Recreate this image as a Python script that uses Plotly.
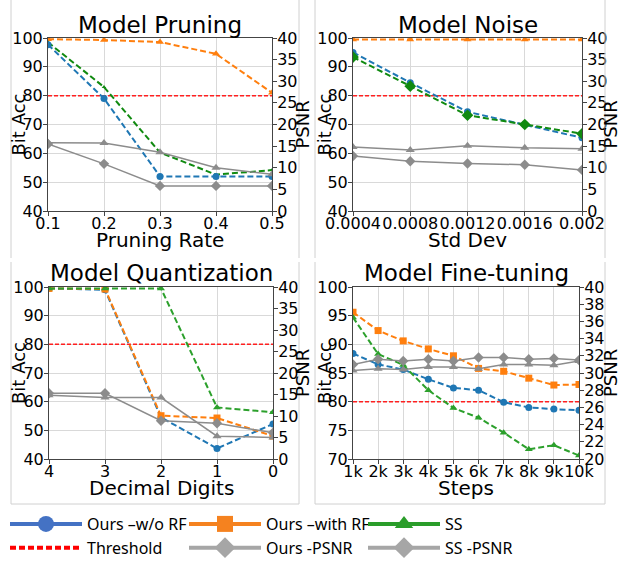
import plotly.graph_objects as go

W, H = 624, 567

# ---------------- data ----------------
prune_x = [0.1, 0.2, 0.3, 0.4, 0.5]
prune_wo = [97.7, 79.0, 52.0, 52.0, 52.0]
prune_with = [99.6, 99.3, 98.6, 94.5, 81.0]
prune_ss = [98.5, 83.0, 60.3, 52.6, 54.2]
prune_ours_psnr = [15.5, 10.9, 5.8, 5.8, 5.8]
prune_ss_psnr = [15.8, 15.7, 13.6, 10.0, 8.5]

noise_x = [0.0004, 0.0008, 0.0012, 0.0016, 0.002]
noise_labels = ["0.0004", "0.0008", "0.0012", "0.0016", "0.002"]
noise_wo = [95.0, 84.5, 74.4, 70.0, 65.4]
noise_with = [99.5, 99.5, 99.5, 99.5, 99.5]
noise_ss = [93.4, 83.3, 73.2, 70.0, 66.8]
noise_ours_psnr = [12.7, 11.5, 11.0, 10.7, 9.5]
noise_ss_psnr = [14.8, 14.1, 15.1, 14.6, 14.4]

quant_x = [4, 3, 2, 1, 0]
quant_wo = [99.5, 99.0, 54.5, 43.7, 52.2]
quant_with = [99.5, 99.3, 55.1, 54.3, 48.0]
quant_ss = [99.5, 99.5, 99.5, 58.0, 56.3]
quant_ours_psnr = [15.3, 15.3, 8.9, 8.3, 6.1]
quant_ss_psnr = [14.8, 14.3, 14.3, 5.3, 5.0]

ft_x = [1, 2, 3, 4, 5, 6, 7, 8, 9, 10]
ft_labels = ["1k", "2k", "3k", "4k", "5k", "6k", "7k", "8k", "9k", "10k"]
ft_wo = [88.4, 86.5, 85.6, 83.9, 82.4, 82.0, 79.9, 79.0, 78.7, 78.5]
ft_with = [95.6, 92.4, 90.6, 89.2, 88.0, 85.8, 85.3, 84.1, 82.9, 83.0]
ft_ss = [94.7, 88.3, 86.4, 82.0, 78.9, 77.2, 74.6, 71.7, 72.4, 70.6]
ft_ours_psnr = [31.0, 31.6, 31.4, 31.6, 31.4, 31.8, 31.8, 31.6, 31.7, 31.5]
ft_ss_psnr = [30.3, 30.5, 30.4, 30.7, 30.7, 30.5, 31.0, 31.0, 30.9, 31.4]

threshold = 80

BLUE, ORANGE, GREEN, DGREEN = "#1f77b4", "#ff7f0e", "#2ca02c", "#108a10"
GRAY, RED = "#8c8c8c", "#ff2020"
FONT = "DejaVu Sans"

fig = go.Figure()

def px_x(p):
    return p / W

def px_y(p):
    return (H - p) / H

panels = [
    dict(x0=48, x1=272, y0=38, y1=211),
    dict(x0=353, x1=582, y0=38, y1=211),
    dict(x0=49, x1=273, y0=287, y1=459),
    dict(x0=353, x1=579, y0=287, y1=459),
]

def dash_trace(x, y, color, symbol, xa, ya, size=7):
    fig.add_trace(go.Scatter(x=x, y=y, mode="lines+markers", xaxis=xa, yaxis=ya,
                             line=dict(color=color, width=2, dash="6px,3px"),
                             marker=dict(symbol=symbol, size=size, color=color),
                             showlegend=False))

def gray_trace(x, y, symbol, xa, ya):
    fig.add_trace(go.Scatter(x=x, y=y, mode="lines+markers", xaxis=xa, yaxis=ya,
                             line=dict(color=GRAY, width=1.5),
                             marker=dict(symbol=symbol, size=8, color=GRAY),
                             showlegend=False))

def thr_trace(x, xa, ya):
    fig.add_trace(go.Scatter(x=x, y=[threshold] * len(x), mode="lines", xaxis=xa, yaxis=ya,
                             line=dict(color=RED, width=1.5, dash="4px,2px"),
                             showlegend=False))

# panel 1
gray_trace(prune_x, prune_ours_psnr, "diamond", "x", "y2")
gray_trace(prune_x, prune_ss_psnr, "triangle-up", "x", "y2")
thr_trace(prune_x, "x", "y")
dash_trace(prune_x, prune_with, ORANGE, "triangle-up", "x", "y")
dash_trace(prune_x, prune_ss, DGREEN, "triangle-up", "x", "y", size=4)
dash_trace(prune_x, prune_wo, BLUE, "circle", "x", "y")

# panel 2
gray_trace(noise_x, noise_ours_psnr, "diamond", "x2", "y4")
gray_trace(noise_x, noise_ss_psnr, "triangle-up", "x2", "y4")
thr_trace(noise_x, "x2", "y3")
dash_trace(noise_x, noise_with, ORANGE, "triangle-up", "x2", "y3")
dash_trace(noise_x, noise_wo, BLUE, "circle", "x2", "y3")
dash_trace(noise_x, noise_ss, DGREEN, "diamond", "x2", "y3", size=9)

# panel 3
gray_trace(quant_x, quant_ours_psnr, "diamond", "x3", "y6")
gray_trace(quant_x, quant_ss_psnr, "triangle-up", "x3", "y6")
thr_trace(quant_x, "x3", "y5")
dash_trace(quant_x, quant_wo, BLUE, "circle", "x3", "y5")
dash_trace(quant_x, quant_with, ORANGE, "square", "x3", "y5")
dash_trace(quant_x, quant_ss, GREEN, "triangle-up", "x3", "y5")

# panel 4
gray_trace(ft_x, ft_ours_psnr, "diamond", "x4", "y8")
gray_trace(ft_x, ft_ss_psnr, "triangle-up", "x4", "y8")
thr_trace(ft_x, "x4", "y7")
dash_trace(ft_x, ft_with, ORANGE, "square", "x4", "y7")
dash_trace(ft_x, ft_wo, BLUE, "circle", "x4", "y7")
dash_trace(ft_x, ft_ss, GREEN, "triangle-up", "x4", "y7")

# legend proxies
leg = [
    ("Ours \u2013w/o RF", "#4472c4", "circle", "solid"),
    ("Ours \u2013with RF", "#f5821f", "square", "solid"),
    ("SS", "#2a9d2a", "triangle-up", "solid"),
    ("Threshold", "#ff0000", None, "dash"),
    ("Ours -PSNR", "#a6a6a6", "diamond", "solid"),
    ("SS -PSNR", "#a6a6a6", "diamond", "solid"),
]
for name, col, sym, dsh in leg:
    if sym:
        fig.add_trace(go.Scatter(x=[None], y=[None], mode="lines+markers", name=name,
                                 line=dict(color=col, width=4, dash=dsh),
                                 marker=dict(symbol=sym, size=18, color=col), xaxis="x", yaxis="y"))
    else:
        fig.add_trace(go.Scatter(x=[None], y=[None], mode="lines", name=name,
                                 line=dict(color=col, width=4, dash="6px,3px"), xaxis="x", yaxis="y"))

tickfont = dict(family=FONT, size=16, color="black")
axcommon = dict(showline=True, linecolor="#444", linewidth=1, ticks="outside", ticklen=4,
                tickcolor="#444", tickfont=tickfont, zeroline=False, automargin=False)

def xaxis(p, **kw):
    d = dict(domain=[px_x(p["x0"]), px_x(p["x1"])], showgrid=True, gridcolor="#d9d9d9",
             gridwidth=1, mirror=True, tickangle=0, ticklabelstandoff=-6, **axcommon)
    d.update(kw)
    return d

def yleft(p, **kw):
    d = dict(domain=[px_y(p["y1"]), px_y(p["y0"])], showgrid=True, gridcolor="#d9d9d9",
             gridwidth=1, ticklabelstandoff=-3, **axcommon)
    d.update(kw)
    return d

def yright(anchor, overlay, **kw):
    d = dict(overlaying=overlay, anchor=anchor, side="right", showgrid=False,
             ticklabelstandoff=-3, **axcommon)
    d.update(kw)
    return d

P = panels
fig.update_layout(
    width=W, height=H, margin=dict(l=0, r=0, t=0, b=0, autoexpand=False),
    paper_bgcolor="white", plot_bgcolor="white",
    font=dict(family=FONT, color="black"),
    xaxis=xaxis(P[0], anchor="y", range=[0.1, 0.5], tickvals=prune_x,
                ticktext=["0.1", "0.2", "0.3", "0.4", "0.5"]),
    yaxis=yleft(P[0], anchor="x", range=[40, 100], dtick=10),
    yaxis2=yright("x", "y", range=[0, 40], dtick=5),
    xaxis2=xaxis(P[1], anchor="y3", range=[0.0004, 0.002], tickvals=noise_x, ticktext=noise_labels),
    yaxis3=yleft(P[1], anchor="x2", range=[40, 100], dtick=10),
    yaxis4=yright("x2", "y3", range=[0, 40], dtick=5),
    xaxis3=xaxis(P[2], anchor="y5", range=[4, 0], tickvals=quant_x,
                 ticktext=[str(v) for v in quant_x]),
    yaxis5=yleft(P[2], anchor="x3", range=[40, 100], dtick=10),
    yaxis6=yright("x3", "y5", range=[0, 40], dtick=5),
    xaxis4=xaxis(P[3], anchor="y7", range=[1, 10], tickvals=ft_x, ticktext=ft_labels),
    yaxis7=yleft(P[3], anchor="x4", range=[70, 100], dtick=5),
    yaxis8=yright("x4", "y7", range=[20, 40], dtick=2),
    legend=dict(orientation="h", x=px_x(5), xanchor="left", y=px_y(507), yanchor="top",
                entrywidth=92, entrywidthmode="pixels", itemwidth=72,
                font=dict(family="Noto Sans", size=16, color="black"),
                tracegroupgap=0, bgcolor="rgba(0,0,0,0)"),
)

ann = []
titles = ["Model Pruning", "Model Noise", "Model Quantization", "Model Fine-tuning"]
xtitles = ["Pruning Rate", "Std Dev", "Decimal Digits", "Steps"]
title_y = [25, 25, 273, 273]
xt_y = [240, 240, 488, 488]
ylab_x = [[18, 302], [324, 610], [18, 302], [324, 610]]
for i, p in enumerate(P):
    cx = (p["x0"] + p["x1"]) / 2
    cy = (p["y0"] + p["y1"]) / 2
    ann.append(dict(text=titles[i], x=px_x(cx), y=px_y(title_y[i]), xref="paper", yref="paper",
                    xanchor="center", yanchor="middle", showarrow=False,
                    font=dict(family=FONT, size=23, color="black")))
    ann.append(dict(text=xtitles[i], x=px_x(cx), y=px_y(xt_y[i]), xref="paper", yref="paper",
                    xanchor="center", yanchor="middle", showarrow=False,
                    font=dict(family=FONT, size=20, color="black")))
    ann.append(dict(text="Bit Acc", x=px_x(ylab_x[i][0]), y=px_y(cy), xref="paper", yref="paper",
                    xanchor="center", yanchor="middle", showarrow=False, textangle=-90,
                    font=dict(family=FONT, size=18, color="black")))
    ann.append(dict(text="PSNR", x=px_x(ylab_x[i][1]), y=px_y(cy), xref="paper", yref="paper",
                    xanchor="center", yanchor="middle", showarrow=False, textangle=-90,
                    font=dict(family=FONT, size=18, color="black")))
fig.update_layout(annotations=ann)

# subfigure frame lines
shapes = []
for (xl, xr) in [(11, 299), (315, 605)]:
    for (yt, yb) in [(0, 258), (262, 504)]:
        for xv in (xl, xr):
            shapes.append(dict(type="line", xref="paper", yref="paper", x0=px_x(xv), x1=px_x(xv),
                               y0=px_y(yt), y1=px_y(yb), line=dict(color="#d0d0d0", width=1)))
    shapes.append(dict(type="line", xref="paper", yref="paper", x0=px_x(xl), x1=px_x(xr),
                       y0=px_y(504), y1=px_y(504), line=dict(color="#d0d0d0", width=1)))
fig.update_layout(shapes=shapes)

fig.write_html("out.html", config={"displayModeBar": False},
               post_script="document.body.style.margin='0px';")
